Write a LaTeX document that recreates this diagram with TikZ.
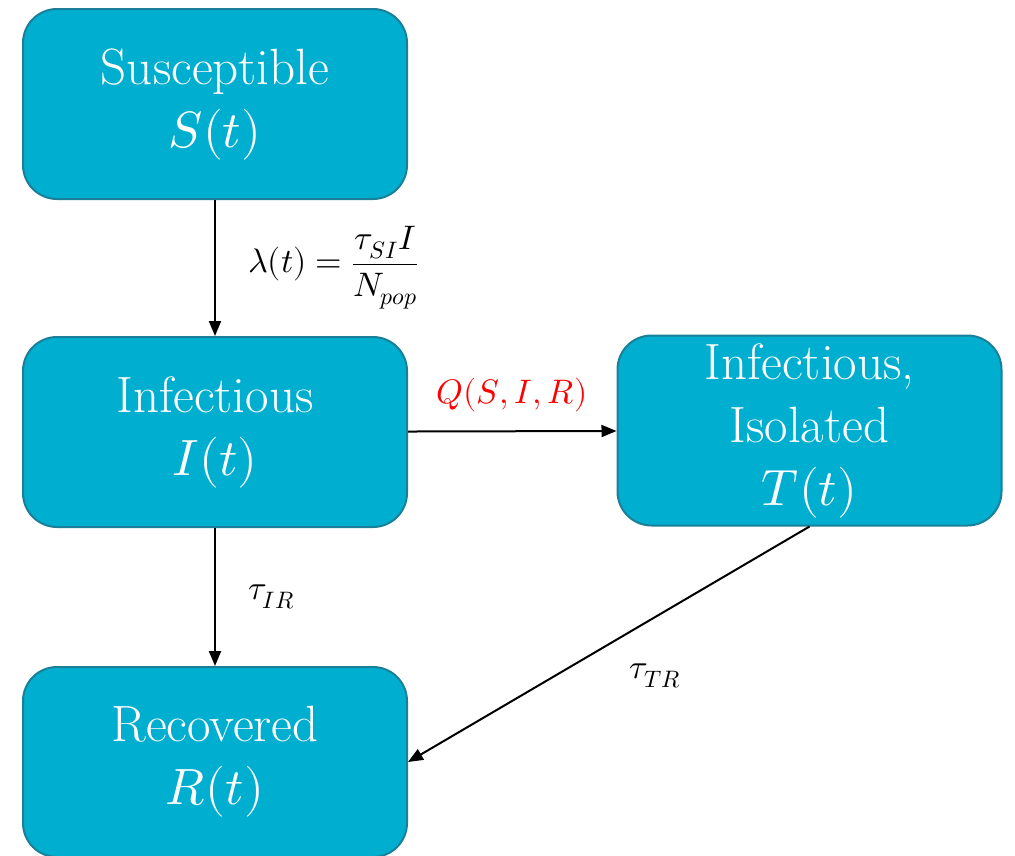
\documentclass[tikz,border=0pt]{standalone}
\usepackage{amsmath}
\usepackage{fontspec}
\usepackage{unicode-math}
\usetikzlibrary{arrows.meta}
\definecolor{boxfill}{HTML}{00AECF}
\definecolor{boxline}{HTML}{1A8099}
\begin{document}
\begin{tikzpicture}[x=1pt,y=-1pt,
  compartment/.style={draw=boxline,line width=2pt,fill=boxfill,rounded corners=34pt,
    minimum width=384pt,minimum height=190pt,inner sep=0pt,text=white,align=center,
    font=\fontsize{51}{63}\selectfont},
  flow/.style={line width=2pt,-{Triangle[length=15pt,width=12pt]}},
  lbl/.style={font=\fontsize{34}{40}\selectfont,inner sep=0pt}]
\useasboundingbox (0,0) rectangle (1015,855);
\node[compartment] (S) at (215,104) {Susceptible\\$S(t)$};
\node[compartment] (I) at (215,432) {Infectious\\$I(t)$};
\node[compartment] (T) at (809.5,430.5) {Infectious,\\Isolated\\$T(t)$};
\node[compartment] (R) at (215,762) {Recovered\\$R(t)$};
\draw[flow] (S) -- (I) node[lbl,midway,right=32pt] (l1) {$\lambda(t)=\dfrac{\tau_{SI}I}{N_{pop}}$};
\draw[flow] (I) -- (T) node[lbl,midway,above=18pt,text=red] (l2) {$Q(S,I,R)$};
\draw[flow] (I) -- (R) node[lbl,midway,right=32pt] (l3) {$\tau_{IR}$};
\draw[flow] (T.south) -- (R.east);
\node[lbl] (l4) at (655,676) {$\tau_{TR}$};
\end{tikzpicture}
\end{document}
